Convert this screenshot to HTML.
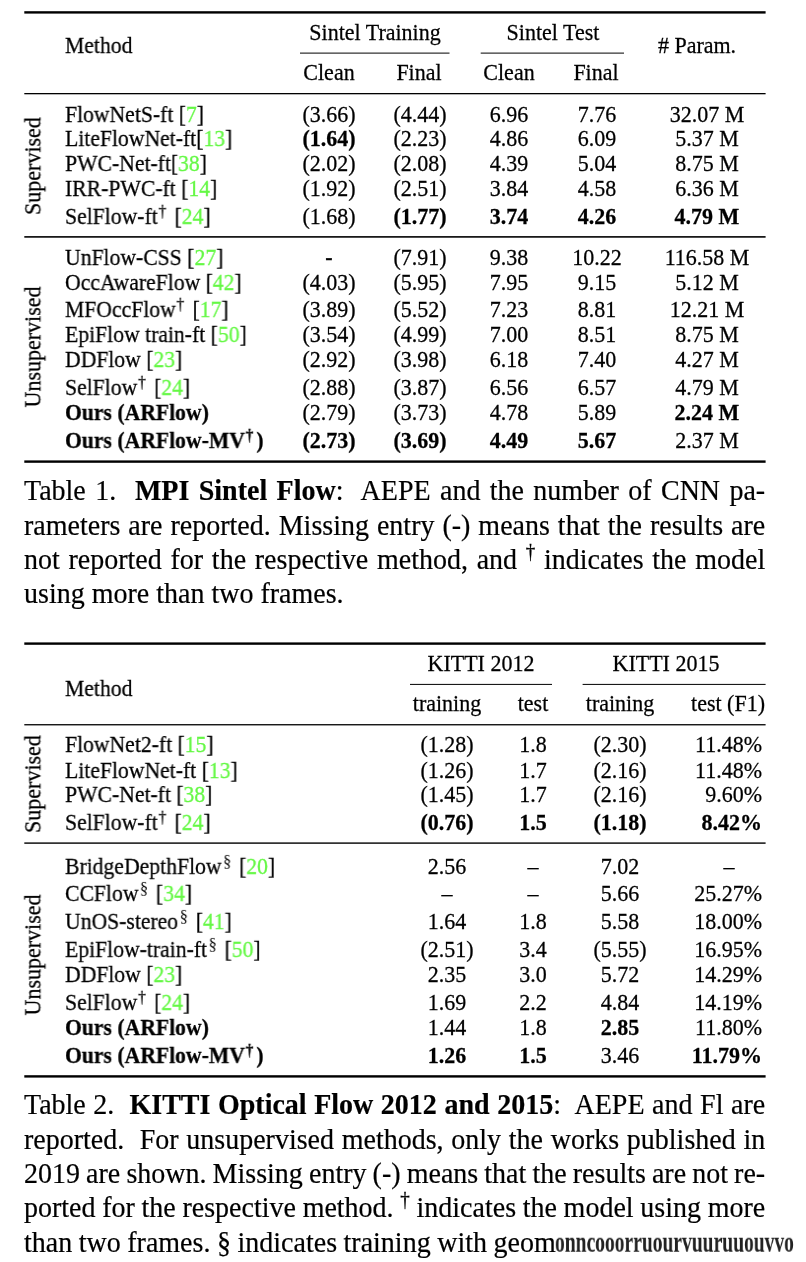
<!DOCTYPE html>
<html><head><meta charset="utf-8"><style>
html,body{margin:0;padding:0;background:#fff;}
body{width:806px;height:1262px;position:relative;overflow:hidden;font-family:"Liberation Serif",serif;color:#000;}
.t{position:absolute;white-space:pre;will-change:transform;-webkit-text-stroke:0.25px currentColor;}
.rules{position:absolute;left:0;top:0;}
.g{color:rgb(100,248,68);}
.s{font-size:15.5px;vertical-align:0;position:relative;top:-7.5px;line-height:0;margin-left:0.8px;margin-right:3px;-webkit-text-stroke:0.3px #000;}
.cs{font-size:19px;vertical-align:0;position:relative;top:-10px;line-height:0;-webkit-text-stroke:0.3px #000;}
.s2{font-size:16.5px;vertical-align:0;position:relative;top:-7px;line-height:0;margin-left:1.5px;margin-right:2.5px;-webkit-text-stroke:0;}
.v{transform:rotate(-90deg) scaleY(1.05) !important;}
.cap{position:absolute;left:24px;font-size:28px;line-height:28px;white-space:pre;will-change:transform;-webkit-text-stroke:0.2px currentColor;}
.j{display:block;text-align:justify;text-align-last:justify;white-space:normal;}
.garb{position:absolute;font-size:28px;line-height:28px;white-space:pre;font-weight:bold;color:#222;will-change:transform;}
</style></head><body>
<svg class="rules" width="806" height="1262" viewBox="0 0 806 1262"><rect x="24.3" y="11.2" width="741.30" height="2.4"/><rect x="300" y="52.6" width="149.50" height="1"/><rect x="480.7" y="52.6" width="143.30" height="1"/><rect x="24.3" y="93.0" width="741.30" height="1.3"/><rect x="24.3" y="236.1" width="741.30" height="1.6"/><rect x="24.3" y="460.4" width="741.30" height="2.4"/><rect x="24.3" y="642.4" width="741.30" height="2.4"/><rect x="410" y="683.9" width="142.00" height="1"/><rect x="582.6" y="683.9" width="183.00" height="1"/><rect x="24.3" y="724.1" width="741.30" height="1.3"/><rect x="24.3" y="842.4" width="741.30" height="1.4"/><rect x="24.3" y="1075.2" width="741.30" height="2.4"/></svg>
<div class="t" style="left:74.50px;width:600px;text-align:center;top:21.57px;font-size:22px;line-height:22px;transform:scaleY(1.05);transform-origin:0 18.43px;">Sintel Training</div>
<div class="t" style="left:253.00px;width:600px;text-align:center;top:21.57px;font-size:22px;line-height:22px;transform:scaleY(1.05);transform-origin:0 18.43px;">Sintel Test</div>
<div class="t" style="left:64.60px;top:34.58px;font-size:22px;line-height:22px;transform:scaleX(0.985) scaleY(1.05);transform-origin:0 18.43px;">Method</div>
<div class="t" style="left:397.00px;width:600px;text-align:center;top:34.58px;font-size:22px;line-height:22px;transform:scaleY(1.05);transform-origin:0 18.43px;"># Param.</div>
<div class="t" style="left:29.00px;width:600px;text-align:center;top:62.38px;font-size:22px;line-height:22px;transform:scaleY(1.05);transform-origin:0 18.43px;">Clean</div>
<div class="t" style="left:119.00px;width:600px;text-align:center;top:62.38px;font-size:22px;line-height:22px;transform:scaleY(1.05);transform-origin:0 18.43px;">Final</div>
<div class="t" style="left:209.00px;width:600px;text-align:center;top:62.38px;font-size:22px;line-height:22px;transform:scaleY(1.05);transform-origin:0 18.43px;">Clean</div>
<div class="t" style="left:296.00px;width:600px;text-align:center;top:62.38px;font-size:22px;line-height:22px;transform:scaleY(1.05);transform-origin:0 18.43px;">Final</div>
<div class="t" style="left:64.60px;top:103.58px;font-size:22px;line-height:22px;transform:scaleX(0.985) scaleY(1.05);transform-origin:0 18.43px;">FlowNetS-ft [<span class="g">7</span>]</div>
<div class="t" style="left:29.40px;width:600px;text-align:center;top:103.58px;font-size:22px;line-height:22px;transform:scaleY(1.05);transform-origin:0 18.43px;">(3.66)</div>
<div class="t" style="left:119.50px;width:600px;text-align:center;top:103.58px;font-size:22px;line-height:22px;transform:scaleY(1.05);transform-origin:0 18.43px;">(4.44)</div>
<div class="t" style="left:209.00px;width:600px;text-align:center;top:103.58px;font-size:22px;line-height:22px;transform:scaleY(1.05);transform-origin:0 18.43px;">6.96</div>
<div class="t" style="left:297.00px;width:600px;text-align:center;top:103.58px;font-size:22px;line-height:22px;transform:scaleY(1.05);transform-origin:0 18.43px;">7.76</div>
<div class="t" style="left:407.00px;width:600px;text-align:center;top:103.58px;font-size:22px;line-height:22px;transform:scaleY(1.05);transform-origin:0 18.43px;">32.07 M</div>
<div class="t" style="left:64.60px;top:128.07px;font-size:22px;line-height:22px;transform:scaleX(0.985) scaleY(1.05);transform-origin:0 18.43px;">LiteFlowNet-ft[<span class="g">13</span>]</div>
<div class="t" style="left:29.40px;width:600px;text-align:center;top:128.07px;font-size:22px;line-height:22px;font-weight:bold;transform:scaleY(1.05);transform-origin:0 18.43px;">(1.64)</div>
<div class="t" style="left:119.50px;width:600px;text-align:center;top:128.07px;font-size:22px;line-height:22px;transform:scaleY(1.05);transform-origin:0 18.43px;">(2.23)</div>
<div class="t" style="left:209.00px;width:600px;text-align:center;top:128.07px;font-size:22px;line-height:22px;transform:scaleY(1.05);transform-origin:0 18.43px;">4.86</div>
<div class="t" style="left:297.00px;width:600px;text-align:center;top:128.07px;font-size:22px;line-height:22px;transform:scaleY(1.05);transform-origin:0 18.43px;">6.09</div>
<div class="t" style="left:407.00px;width:600px;text-align:center;top:128.07px;font-size:22px;line-height:22px;transform:scaleY(1.05);transform-origin:0 18.43px;">5.37 M</div>
<div class="t" style="left:64.60px;top:153.07px;font-size:22px;line-height:22px;transform:scaleX(0.985) scaleY(1.05);transform-origin:0 18.43px;">PWC-Net-ft[<span class="g">38</span>]</div>
<div class="t" style="left:29.40px;width:600px;text-align:center;top:153.07px;font-size:22px;line-height:22px;transform:scaleY(1.05);transform-origin:0 18.43px;">(2.02)</div>
<div class="t" style="left:119.50px;width:600px;text-align:center;top:153.07px;font-size:22px;line-height:22px;transform:scaleY(1.05);transform-origin:0 18.43px;">(2.08)</div>
<div class="t" style="left:209.00px;width:600px;text-align:center;top:153.07px;font-size:22px;line-height:22px;transform:scaleY(1.05);transform-origin:0 18.43px;">4.39</div>
<div class="t" style="left:297.00px;width:600px;text-align:center;top:153.07px;font-size:22px;line-height:22px;transform:scaleY(1.05);transform-origin:0 18.43px;">5.04</div>
<div class="t" style="left:407.00px;width:600px;text-align:center;top:153.07px;font-size:22px;line-height:22px;transform:scaleY(1.05);transform-origin:0 18.43px;">8.75 M</div>
<div class="t" style="left:64.60px;top:178.27px;font-size:22px;line-height:22px;transform:scaleX(0.985) scaleY(1.05);transform-origin:0 18.43px;">IRR-PWC-ft [<span class="g">14</span>]</div>
<div class="t" style="left:29.40px;width:600px;text-align:center;top:178.27px;font-size:22px;line-height:22px;transform:scaleY(1.05);transform-origin:0 18.43px;">(1.92)</div>
<div class="t" style="left:119.50px;width:600px;text-align:center;top:178.27px;font-size:22px;line-height:22px;transform:scaleY(1.05);transform-origin:0 18.43px;">(2.51)</div>
<div class="t" style="left:209.00px;width:600px;text-align:center;top:178.27px;font-size:22px;line-height:22px;transform:scaleY(1.05);transform-origin:0 18.43px;">3.84</div>
<div class="t" style="left:297.00px;width:600px;text-align:center;top:178.27px;font-size:22px;line-height:22px;transform:scaleY(1.05);transform-origin:0 18.43px;">4.58</div>
<div class="t" style="left:407.00px;width:600px;text-align:center;top:178.27px;font-size:22px;line-height:22px;transform:scaleY(1.05);transform-origin:0 18.43px;">6.36 M</div>
<div class="t" style="left:64.60px;top:205.87px;font-size:22px;line-height:22px;transform:scaleX(0.985) scaleY(1.05);transform-origin:0 18.43px;">SelFlow-ft<sup class="s">&#8224;</sup> [<span class="g">24</span>]</div>
<div class="t" style="left:29.40px;width:600px;text-align:center;top:205.87px;font-size:22px;line-height:22px;transform:scaleY(1.05);transform-origin:0 18.43px;">(1.68)</div>
<div class="t" style="left:119.50px;width:600px;text-align:center;top:205.87px;font-size:22px;line-height:22px;font-weight:bold;transform:scaleY(1.05);transform-origin:0 18.43px;">(1.77)</div>
<div class="t" style="left:209.00px;width:600px;text-align:center;top:205.87px;font-size:22px;line-height:22px;font-weight:bold;transform:scaleY(1.05);transform-origin:0 18.43px;">3.74</div>
<div class="t" style="left:297.00px;width:600px;text-align:center;top:205.87px;font-size:22px;line-height:22px;font-weight:bold;transform:scaleY(1.05);transform-origin:0 18.43px;">4.26</div>
<div class="t" style="left:407.00px;width:600px;text-align:center;top:205.87px;font-size:22px;line-height:22px;font-weight:bold;transform:scaleY(1.05);transform-origin:0 18.43px;">4.79 M</div>
<div class="t" style="left:64.60px;top:247.38px;font-size:22px;line-height:22px;transform:scaleX(0.985) scaleY(1.05);transform-origin:0 18.43px;">UnFlow-CSS [<span class="g">27</span>]</div>
<div class="t" style="left:29.40px;width:600px;text-align:center;top:247.38px;font-size:22px;line-height:22px;transform:scaleY(1.05);transform-origin:0 18.43px;">-</div>
<div class="t" style="left:119.50px;width:600px;text-align:center;top:247.38px;font-size:22px;line-height:22px;transform:scaleY(1.05);transform-origin:0 18.43px;">(7.91)</div>
<div class="t" style="left:209.00px;width:600px;text-align:center;top:247.38px;font-size:22px;line-height:22px;transform:scaleY(1.05);transform-origin:0 18.43px;">9.38</div>
<div class="t" style="left:297.00px;width:600px;text-align:center;top:247.38px;font-size:22px;line-height:22px;transform:scaleY(1.05);transform-origin:0 18.43px;">10.22</div>
<div class="t" style="left:407.00px;width:600px;text-align:center;top:247.38px;font-size:22px;line-height:22px;transform:scaleY(1.05);transform-origin:0 18.43px;">116.58 M</div>
<div class="t" style="left:64.60px;top:272.48px;font-size:22px;line-height:22px;transform:scaleX(0.985) scaleY(1.05);transform-origin:0 18.43px;">OccAwareFlow [<span class="g">42</span>]</div>
<div class="t" style="left:29.40px;width:600px;text-align:center;top:272.48px;font-size:22px;line-height:22px;transform:scaleY(1.05);transform-origin:0 18.43px;">(4.03)</div>
<div class="t" style="left:119.50px;width:600px;text-align:center;top:272.48px;font-size:22px;line-height:22px;transform:scaleY(1.05);transform-origin:0 18.43px;">(5.95)</div>
<div class="t" style="left:209.00px;width:600px;text-align:center;top:272.48px;font-size:22px;line-height:22px;transform:scaleY(1.05);transform-origin:0 18.43px;">7.95</div>
<div class="t" style="left:297.00px;width:600px;text-align:center;top:272.48px;font-size:22px;line-height:22px;transform:scaleY(1.05);transform-origin:0 18.43px;">9.15</div>
<div class="t" style="left:407.00px;width:600px;text-align:center;top:272.48px;font-size:22px;line-height:22px;transform:scaleY(1.05);transform-origin:0 18.43px;">5.12 M</div>
<div class="t" style="left:64.60px;top:299.28px;font-size:22px;line-height:22px;transform:scaleX(0.985) scaleY(1.05);transform-origin:0 18.43px;">MFOccFlow<sup class="s">&#8224;</sup> [<span class="g">17</span>]</div>
<div class="t" style="left:29.40px;width:600px;text-align:center;top:299.28px;font-size:22px;line-height:22px;transform:scaleY(1.05);transform-origin:0 18.43px;">(3.89)</div>
<div class="t" style="left:119.50px;width:600px;text-align:center;top:299.28px;font-size:22px;line-height:22px;transform:scaleY(1.05);transform-origin:0 18.43px;">(5.52)</div>
<div class="t" style="left:209.00px;width:600px;text-align:center;top:299.28px;font-size:22px;line-height:22px;transform:scaleY(1.05);transform-origin:0 18.43px;">7.23</div>
<div class="t" style="left:297.00px;width:600px;text-align:center;top:299.28px;font-size:22px;line-height:22px;transform:scaleY(1.05);transform-origin:0 18.43px;">8.81</div>
<div class="t" style="left:407.00px;width:600px;text-align:center;top:299.28px;font-size:22px;line-height:22px;transform:scaleY(1.05);transform-origin:0 18.43px;">12.21 M</div>
<div class="t" style="left:64.60px;top:324.28px;font-size:22px;line-height:22px;transform:scaleX(0.985) scaleY(1.05);transform-origin:0 18.43px;">EpiFlow train-ft [<span class="g">50</span>]</div>
<div class="t" style="left:29.40px;width:600px;text-align:center;top:324.28px;font-size:22px;line-height:22px;transform:scaleY(1.05);transform-origin:0 18.43px;">(3.54)</div>
<div class="t" style="left:119.50px;width:600px;text-align:center;top:324.28px;font-size:22px;line-height:22px;transform:scaleY(1.05);transform-origin:0 18.43px;">(4.99)</div>
<div class="t" style="left:209.00px;width:600px;text-align:center;top:324.28px;font-size:22px;line-height:22px;transform:scaleY(1.05);transform-origin:0 18.43px;">7.00</div>
<div class="t" style="left:297.00px;width:600px;text-align:center;top:324.28px;font-size:22px;line-height:22px;transform:scaleY(1.05);transform-origin:0 18.43px;">8.51</div>
<div class="t" style="left:407.00px;width:600px;text-align:center;top:324.28px;font-size:22px;line-height:22px;transform:scaleY(1.05);transform-origin:0 18.43px;">8.75 M</div>
<div class="t" style="left:64.60px;top:349.38px;font-size:22px;line-height:22px;transform:scaleX(0.985) scaleY(1.05);transform-origin:0 18.43px;">DDFlow [<span class="g">23</span>]</div>
<div class="t" style="left:29.40px;width:600px;text-align:center;top:349.38px;font-size:22px;line-height:22px;transform:scaleY(1.05);transform-origin:0 18.43px;">(2.92)</div>
<div class="t" style="left:119.50px;width:600px;text-align:center;top:349.38px;font-size:22px;line-height:22px;transform:scaleY(1.05);transform-origin:0 18.43px;">(3.98)</div>
<div class="t" style="left:209.00px;width:600px;text-align:center;top:349.38px;font-size:22px;line-height:22px;transform:scaleY(1.05);transform-origin:0 18.43px;">6.18</div>
<div class="t" style="left:297.00px;width:600px;text-align:center;top:349.38px;font-size:22px;line-height:22px;transform:scaleY(1.05);transform-origin:0 18.43px;">7.40</div>
<div class="t" style="left:407.00px;width:600px;text-align:center;top:349.38px;font-size:22px;line-height:22px;transform:scaleY(1.05);transform-origin:0 18.43px;">4.27 M</div>
<div class="t" style="left:64.60px;top:377.28px;font-size:22px;line-height:22px;transform:scaleX(0.985) scaleY(1.05);transform-origin:0 18.43px;">SelFlow<sup class="s">&#8224;</sup> [<span class="g">24</span>]</div>
<div class="t" style="left:29.40px;width:600px;text-align:center;top:377.28px;font-size:22px;line-height:22px;transform:scaleY(1.05);transform-origin:0 18.43px;">(2.88)</div>
<div class="t" style="left:119.50px;width:600px;text-align:center;top:377.28px;font-size:22px;line-height:22px;transform:scaleY(1.05);transform-origin:0 18.43px;">(3.87)</div>
<div class="t" style="left:209.00px;width:600px;text-align:center;top:377.28px;font-size:22px;line-height:22px;transform:scaleY(1.05);transform-origin:0 18.43px;">6.56</div>
<div class="t" style="left:297.00px;width:600px;text-align:center;top:377.28px;font-size:22px;line-height:22px;transform:scaleY(1.05);transform-origin:0 18.43px;">6.57</div>
<div class="t" style="left:407.00px;width:600px;text-align:center;top:377.28px;font-size:22px;line-height:22px;transform:scaleY(1.05);transform-origin:0 18.43px;">4.79 M</div>
<div class="t" style="left:64.60px;top:402.18px;font-size:22px;line-height:22px;transform:scaleX(0.985) scaleY(1.05);transform-origin:0 18.43px;"><b>Ours (ARFlow)</b></div>
<div class="t" style="left:29.40px;width:600px;text-align:center;top:402.18px;font-size:22px;line-height:22px;transform:scaleY(1.05);transform-origin:0 18.43px;">(2.79)</div>
<div class="t" style="left:119.50px;width:600px;text-align:center;top:402.18px;font-size:22px;line-height:22px;transform:scaleY(1.05);transform-origin:0 18.43px;">(3.73)</div>
<div class="t" style="left:209.00px;width:600px;text-align:center;top:402.18px;font-size:22px;line-height:22px;transform:scaleY(1.05);transform-origin:0 18.43px;">4.78</div>
<div class="t" style="left:297.00px;width:600px;text-align:center;top:402.18px;font-size:22px;line-height:22px;transform:scaleY(1.05);transform-origin:0 18.43px;">5.89</div>
<div class="t" style="left:407.00px;width:600px;text-align:center;top:402.18px;font-size:22px;line-height:22px;font-weight:bold;transform:scaleY(1.05);transform-origin:0 18.43px;">2.24 M</div>
<div class="t" style="left:64.60px;top:430.48px;font-size:22px;line-height:22px;transform:scaleX(0.985) scaleY(1.05);transform-origin:0 18.43px;"><b>Ours (ARFlow-MV<sup class="s">&#8224;</sup>)</b></div>
<div class="t" style="left:29.40px;width:600px;text-align:center;top:430.48px;font-size:22px;line-height:22px;font-weight:bold;transform:scaleY(1.05);transform-origin:0 18.43px;">(2.73)</div>
<div class="t" style="left:119.50px;width:600px;text-align:center;top:430.48px;font-size:22px;line-height:22px;font-weight:bold;transform:scaleY(1.05);transform-origin:0 18.43px;">(3.69)</div>
<div class="t" style="left:209.00px;width:600px;text-align:center;top:430.48px;font-size:22px;line-height:22px;font-weight:bold;transform:scaleY(1.05);transform-origin:0 18.43px;">4.49</div>
<div class="t" style="left:297.00px;width:600px;text-align:center;top:430.48px;font-size:22px;line-height:22px;font-weight:bold;transform:scaleY(1.05);transform-origin:0 18.43px;">5.67</div>
<div class="t" style="left:407.00px;width:600px;text-align:center;top:430.48px;font-size:22px;line-height:22px;transform:scaleY(1.05);transform-origin:0 18.43px;">2.37 M</div>
<div class="t v" style="left:-167.5px;top:154.70px;width:400px;height:22px;line-height:22px;font-size:22px;text-align:center">Supervised</div>
<div class="t v" style="left:-167.5px;top:335.50px;width:400px;height:22px;line-height:22px;font-size:22px;text-align:center">Unsupervised</div>
<div class="t" style="left:181.00px;width:600px;text-align:center;top:652.58px;font-size:22px;line-height:22px;transform:scaleY(1.05);transform-origin:0 18.43px;">KITTI 2012</div>
<div class="t" style="left:366.00px;width:600px;text-align:center;top:652.58px;font-size:22px;line-height:22px;transform:scaleY(1.05);transform-origin:0 18.43px;">KITTI 2015</div>
<div class="t" style="left:64.60px;top:677.58px;font-size:22px;line-height:22px;transform:scaleX(0.985) scaleY(1.05);transform-origin:0 18.43px;">Method</div>
<div class="t" style="left:146.50px;width:600px;text-align:center;top:693.38px;font-size:22px;line-height:22px;transform:scaleY(1.05);transform-origin:0 18.43px;">training</div>
<div class="t" style="left:233.00px;width:600px;text-align:center;top:693.38px;font-size:22px;line-height:22px;transform:scaleY(1.05);transform-origin:0 18.43px;">test</div>
<div class="t" style="left:320.00px;width:600px;text-align:center;top:693.38px;font-size:22px;line-height:22px;transform:scaleY(1.05);transform-origin:0 18.43px;">training</div>
<div class="t" style="left:165.00px;width:600px;text-align:right;top:693.38px;font-size:22px;line-height:22px;transform:scaleY(1.05);transform-origin:0 18.43px;">test (F1)</div>
<div class="t" style="left:64.60px;top:734.48px;font-size:22px;line-height:22px;transform:scaleX(0.985) scaleY(1.05);transform-origin:0 18.43px;">FlowNet2-ft [<span class="g">15</span>]</div>
<div class="t" style="left:146.60px;width:600px;text-align:center;top:734.48px;font-size:22px;line-height:22px;transform:scaleY(1.05);transform-origin:0 18.43px;">(1.28)</div>
<div class="t" style="left:233.00px;width:600px;text-align:center;top:734.48px;font-size:22px;line-height:22px;transform:scaleY(1.05);transform-origin:0 18.43px;">1.8</div>
<div class="t" style="left:319.90px;width:600px;text-align:center;top:734.48px;font-size:22px;line-height:22px;transform:scaleY(1.05);transform-origin:0 18.43px;">(2.30)</div>
<div class="t" style="left:162.00px;width:600px;text-align:right;top:734.48px;font-size:22px;line-height:22px;transform:scaleY(1.05);transform-origin:0 18.43px;">11.48%</div>
<div class="t" style="left:64.60px;top:759.58px;font-size:22px;line-height:22px;transform:scaleX(0.985) scaleY(1.05);transform-origin:0 18.43px;">LiteFlowNet-ft [<span class="g">13</span>]</div>
<div class="t" style="left:146.60px;width:600px;text-align:center;top:759.58px;font-size:22px;line-height:22px;transform:scaleY(1.05);transform-origin:0 18.43px;">(1.26)</div>
<div class="t" style="left:233.00px;width:600px;text-align:center;top:759.58px;font-size:22px;line-height:22px;transform:scaleY(1.05);transform-origin:0 18.43px;">1.7</div>
<div class="t" style="left:319.90px;width:600px;text-align:center;top:759.58px;font-size:22px;line-height:22px;transform:scaleY(1.05);transform-origin:0 18.43px;">(2.16)</div>
<div class="t" style="left:162.00px;width:600px;text-align:right;top:759.58px;font-size:22px;line-height:22px;transform:scaleY(1.05);transform-origin:0 18.43px;">11.48%</div>
<div class="t" style="left:64.60px;top:784.38px;font-size:22px;line-height:22px;transform:scaleX(0.985) scaleY(1.05);transform-origin:0 18.43px;">PWC-Net-ft [<span class="g">38</span>]</div>
<div class="t" style="left:146.60px;width:600px;text-align:center;top:784.38px;font-size:22px;line-height:22px;transform:scaleY(1.05);transform-origin:0 18.43px;">(1.45)</div>
<div class="t" style="left:233.00px;width:600px;text-align:center;top:784.38px;font-size:22px;line-height:22px;transform:scaleY(1.05);transform-origin:0 18.43px;">1.7</div>
<div class="t" style="left:319.90px;width:600px;text-align:center;top:784.38px;font-size:22px;line-height:22px;transform:scaleY(1.05);transform-origin:0 18.43px;">(2.16)</div>
<div class="t" style="left:162.00px;width:600px;text-align:right;top:784.38px;font-size:22px;line-height:22px;transform:scaleY(1.05);transform-origin:0 18.43px;">9.60%</div>
<div class="t" style="left:64.60px;top:811.98px;font-size:22px;line-height:22px;transform:scaleX(0.985) scaleY(1.05);transform-origin:0 18.43px;">SelFlow-ft<sup class="s">&#8224;</sup> [<span class="g">24</span>]</div>
<div class="t" style="left:146.60px;width:600px;text-align:center;top:811.98px;font-size:22px;line-height:22px;font-weight:bold;transform:scaleY(1.05);transform-origin:0 18.43px;">(0.76)</div>
<div class="t" style="left:233.00px;width:600px;text-align:center;top:811.98px;font-size:22px;line-height:22px;font-weight:bold;transform:scaleY(1.05);transform-origin:0 18.43px;">1.5</div>
<div class="t" style="left:319.90px;width:600px;text-align:center;top:811.98px;font-size:22px;line-height:22px;font-weight:bold;transform:scaleY(1.05);transform-origin:0 18.43px;">(1.18)</div>
<div class="t" style="left:162.00px;width:600px;text-align:right;top:811.98px;font-size:22px;line-height:22px;font-weight:bold;transform:scaleY(1.05);transform-origin:0 18.43px;">8.42%</div>
<div class="t" style="left:64.60px;top:856.18px;font-size:22px;line-height:22px;transform:scaleX(0.985) scaleY(1.05);transform-origin:0 18.43px;">BridgeDepthFlow<sup class="s2">&#167;</sup> [<span class="g">20</span>]</div>
<div class="t" style="left:146.60px;width:600px;text-align:center;top:856.18px;font-size:22px;line-height:22px;transform:scaleY(1.05);transform-origin:0 18.43px;">2.56</div>
<div class="t" style="left:233.00px;width:600px;text-align:center;top:856.18px;font-size:22px;line-height:22px;transform:scaleY(1.05);transform-origin:0 18.43px;">&#8211;</div>
<div class="t" style="left:319.90px;width:600px;text-align:center;top:856.18px;font-size:22px;line-height:22px;transform:scaleY(1.05);transform-origin:0 18.43px;">7.02</div>
<div class="t" style="left:428.50px;width:600px;text-align:center;top:856.18px;font-size:22px;line-height:22px;transform:scaleY(1.05);transform-origin:0 18.43px;">&#8211;</div>
<div class="t" style="left:64.60px;top:883.18px;font-size:22px;line-height:22px;transform:scaleX(0.985) scaleY(1.05);transform-origin:0 18.43px;">CCFlow<sup class="s2">&#167;</sup> [<span class="g">34</span>]</div>
<div class="t" style="left:146.60px;width:600px;text-align:center;top:883.18px;font-size:22px;line-height:22px;transform:scaleY(1.05);transform-origin:0 18.43px;">&#8211;</div>
<div class="t" style="left:233.00px;width:600px;text-align:center;top:883.18px;font-size:22px;line-height:22px;transform:scaleY(1.05);transform-origin:0 18.43px;">&#8211;</div>
<div class="t" style="left:319.90px;width:600px;text-align:center;top:883.18px;font-size:22px;line-height:22px;transform:scaleY(1.05);transform-origin:0 18.43px;">5.66</div>
<div class="t" style="left:162.00px;width:600px;text-align:right;top:883.18px;font-size:22px;line-height:22px;transform:scaleY(1.05);transform-origin:0 18.43px;">25.27%</div>
<div class="t" style="left:64.60px;top:911.38px;font-size:22px;line-height:22px;transform:scaleX(0.985) scaleY(1.05);transform-origin:0 18.43px;">UnOS-stereo<sup class="s2">&#167;</sup> [<span class="g">41</span>]</div>
<div class="t" style="left:146.60px;width:600px;text-align:center;top:911.38px;font-size:22px;line-height:22px;transform:scaleY(1.05);transform-origin:0 18.43px;">1.64</div>
<div class="t" style="left:233.00px;width:600px;text-align:center;top:911.38px;font-size:22px;line-height:22px;transform:scaleY(1.05);transform-origin:0 18.43px;">1.8</div>
<div class="t" style="left:319.90px;width:600px;text-align:center;top:911.38px;font-size:22px;line-height:22px;transform:scaleY(1.05);transform-origin:0 18.43px;">5.58</div>
<div class="t" style="left:162.00px;width:600px;text-align:right;top:911.38px;font-size:22px;line-height:22px;transform:scaleY(1.05);transform-origin:0 18.43px;">18.00%</div>
<div class="t" style="left:64.60px;top:938.98px;font-size:22px;line-height:22px;transform:scaleX(0.985) scaleY(1.05);transform-origin:0 18.43px;">EpiFlow-train-ft<sup class="s2">&#167;</sup> [<span class="g">50</span>]</div>
<div class="t" style="left:146.60px;width:600px;text-align:center;top:938.98px;font-size:22px;line-height:22px;transform:scaleY(1.05);transform-origin:0 18.43px;">(2.51)</div>
<div class="t" style="left:233.00px;width:600px;text-align:center;top:938.98px;font-size:22px;line-height:22px;transform:scaleY(1.05);transform-origin:0 18.43px;">3.4</div>
<div class="t" style="left:319.90px;width:600px;text-align:center;top:938.98px;font-size:22px;line-height:22px;transform:scaleY(1.05);transform-origin:0 18.43px;">(5.55)</div>
<div class="t" style="left:162.00px;width:600px;text-align:right;top:938.98px;font-size:22px;line-height:22px;transform:scaleY(1.05);transform-origin:0 18.43px;">16.95%</div>
<div class="t" style="left:64.60px;top:963.98px;font-size:22px;line-height:22px;transform:scaleX(0.985) scaleY(1.05);transform-origin:0 18.43px;">DDFlow [<span class="g">23</span>]</div>
<div class="t" style="left:146.60px;width:600px;text-align:center;top:963.98px;font-size:22px;line-height:22px;transform:scaleY(1.05);transform-origin:0 18.43px;">2.35</div>
<div class="t" style="left:233.00px;width:600px;text-align:center;top:963.98px;font-size:22px;line-height:22px;transform:scaleY(1.05);transform-origin:0 18.43px;">3.0</div>
<div class="t" style="left:319.90px;width:600px;text-align:center;top:963.98px;font-size:22px;line-height:22px;transform:scaleY(1.05);transform-origin:0 18.43px;">5.72</div>
<div class="t" style="left:162.00px;width:600px;text-align:right;top:963.98px;font-size:22px;line-height:22px;transform:scaleY(1.05);transform-origin:0 18.43px;">14.29%</div>
<div class="t" style="left:64.60px;top:992.28px;font-size:22px;line-height:22px;transform:scaleX(0.985) scaleY(1.05);transform-origin:0 18.43px;">SelFlow<sup class="s">&#8224;</sup> [<span class="g">24</span>]</div>
<div class="t" style="left:146.60px;width:600px;text-align:center;top:992.28px;font-size:22px;line-height:22px;transform:scaleY(1.05);transform-origin:0 18.43px;">1.69</div>
<div class="t" style="left:233.00px;width:600px;text-align:center;top:992.28px;font-size:22px;line-height:22px;transform:scaleY(1.05);transform-origin:0 18.43px;">2.2</div>
<div class="t" style="left:319.90px;width:600px;text-align:center;top:992.28px;font-size:22px;line-height:22px;transform:scaleY(1.05);transform-origin:0 18.43px;">4.84</div>
<div class="t" style="left:162.00px;width:600px;text-align:right;top:992.28px;font-size:22px;line-height:22px;transform:scaleY(1.05);transform-origin:0 18.43px;">14.19%</div>
<div class="t" style="left:64.60px;top:1016.97px;font-size:22px;line-height:22px;transform:scaleX(0.985) scaleY(1.05);transform-origin:0 18.43px;"><b>Ours (ARFlow)</b></div>
<div class="t" style="left:146.60px;width:600px;text-align:center;top:1016.97px;font-size:22px;line-height:22px;transform:scaleY(1.05);transform-origin:0 18.43px;">1.44</div>
<div class="t" style="left:233.00px;width:600px;text-align:center;top:1016.97px;font-size:22px;line-height:22px;transform:scaleY(1.05);transform-origin:0 18.43px;">1.8</div>
<div class="t" style="left:319.90px;width:600px;text-align:center;top:1016.97px;font-size:22px;line-height:22px;font-weight:bold;transform:scaleY(1.05);transform-origin:0 18.43px;">2.85</div>
<div class="t" style="left:162.00px;width:600px;text-align:right;top:1016.97px;font-size:22px;line-height:22px;transform:scaleY(1.05);transform-origin:0 18.43px;">11.80%</div>
<div class="t" style="left:64.60px;top:1045.27px;font-size:22px;line-height:22px;transform:scaleX(0.985) scaleY(1.05);transform-origin:0 18.43px;"><b>Ours (ARFlow-MV<sup class="s">&#8224;</sup>)</b></div>
<div class="t" style="left:146.60px;width:600px;text-align:center;top:1045.27px;font-size:22px;line-height:22px;font-weight:bold;transform:scaleY(1.05);transform-origin:0 18.43px;">1.26</div>
<div class="t" style="left:233.00px;width:600px;text-align:center;top:1045.27px;font-size:22px;line-height:22px;font-weight:bold;transform:scaleY(1.05);transform-origin:0 18.43px;">1.5</div>
<div class="t" style="left:319.90px;width:600px;text-align:center;top:1045.27px;font-size:22px;line-height:22px;transform:scaleY(1.05);transform-origin:0 18.43px;">3.46</div>
<div class="t" style="left:162.00px;width:600px;text-align:right;top:1045.27px;font-size:22px;line-height:22px;font-weight:bold;transform:scaleY(1.05);transform-origin:0 18.43px;">11.79%</div>
<div class="t v" style="left:-167px;top:773.00px;width:400px;height:22px;line-height:22px;font-size:22px;text-align:center">Supervised</div>
<div class="t v" style="left:-167px;top:944.00px;width:400px;height:22px;line-height:22px;font-size:22px;text-align:center">Unsupervised</div>
<div class="cap" style="top:477.45px;word-spacing:2.370px;transform:scaleY(1.05);transform-origin:0 23.45px">Table 1.&nbsp; <b>MPI Sintel Flow</b>:&nbsp; AEPE and the number of CNN pa-</div>
<div class="cap" style="top:511.75px;word-spacing:0.959px;transform:scaleY(1.05);transform-origin:0 23.45px">rameters are reported. Missing entry (-) means that the results are</div>
<div class="cap" style="top:546.05px;word-spacing:1.715px;transform:scaleY(1.05);transform-origin:0 23.45px">not reported for the respective method, and <sup class="cs">&#8224;</sup> indicates the model</div>
<div class="cap" style="top:580.35px;word-spacing:0.000px;transform:scaleY(1.05);transform-origin:0 23.45px">using more than two frames.</div>
<div class="cap" style="top:1091.35px;word-spacing:0.566px;transform:scaleY(1.05);transform-origin:0 23.45px">Table 2.&nbsp; <b>KITTI Optical Flow 2012 and 2015</b>:&nbsp; AEPE and Fl are</div>
<div class="cap" style="top:1125.65px;word-spacing:0.699px;transform:scaleY(1.05);transform-origin:0 23.45px">reported.&nbsp; For unsupervised methods, only the works published in</div>
<div class="cap" style="top:1159.95px;word-spacing:-0.893px;transform:scaleY(1.05);transform-origin:0 23.45px">2019 are shown. Missing entry (-) means that the results are not re-</div>
<div class="cap" style="top:1194.25px;word-spacing:-0.310px;transform:scaleY(1.05);transform-origin:0 23.45px">ported for the respective method. <sup class="cs">&#8224;</sup> indicates the model using more</div>
<div class="cap" style="top:1228.55px;word-spacing:-0.469px;transform:scaleY(1.05);transform-origin:0 23.45px">than two frames. &#167; indicates training with geom</div>
<div class="garb" style="left:554.5px;top:1228.55px;transform:scaleX(0.698) scaleY(1.05);transform-origin:0 23.45px">onncooorruourvuuruuouvvo</div>
</body></html>
